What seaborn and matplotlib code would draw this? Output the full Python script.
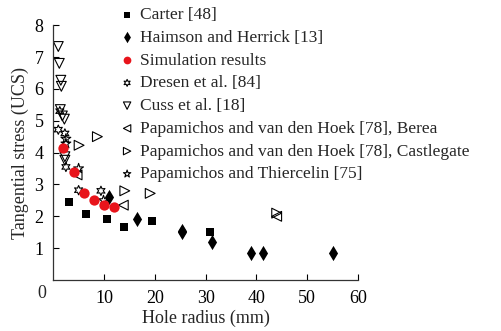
import matplotlib
matplotlib.use("Agg")
import matplotlib.pyplot as plt
import seaborn as sns

# Données
carter_x = [3.2, 6.4, 10.6, 14.0, 19.4, 30.9]
carter_y = [2.46, 2.07, 1.92, 1.67, 1.86, 1.51]

haimson_x = [11.0, 16.5, 25.3, 25.3, 31.2, 39.0, 41.4, 55.0]
haimson_y = [2.61, 1.91, 1.50, 1.55, 1.18, 0.86, 0.86, 0.84]

simulation_x = [2, 4, 6, 8, 10, 12]
simulation_y = [4.13, 3.38, 2.72, 2.51, 2.35, 2.28]

dresen_x = [1.0, 1.3, 2.3, 2.5, 5.0, 9.4]
dresen_y = [4.72, 5.30, 4.60, 3.55, 2.82, 2.80]

cuss_x = [1.0, 1.2, 1.5, 1.6, 1.4, 1.8, 2.2, 2.3, 2.3]
cuss_y = [7.33, 6.80, 6.27, 6.08, 5.35, 5.15, 5.05, 3.87, 3.76]

berea_x = [4.7, 13.8, 44.0]
berea_y = [3.30, 2.35, 2.00]

castlegate_x = [5.1, 8.7, 14.1, 19.1, 44.0]
castlegate_y = [4.23, 4.50, 2.80, 2.72, 2.10]

thiercelin_x = [2.5, 2.5, 5.0, 9.9]
thiercelin_y = [4.43, 4.28, 3.50, 2.50]

labels = ['Carter [48]', 'Haimson and Herrick [13]', 'Simulation results',
          'Dresen et al. [84]', 'Cuss et al. [18]',
          'Papamichos and van den Hoek [78], Berea',
          'Papamichos and van den Hoek [78], Castlegate',
          'Papamichos and Thiercelin [75]']

sns.set_style('ticks')
plt.rcParams['font.family'] = ['Liberation Serif', 'DejaVu Serif']
plt.rcParams['font.size'] = 13

fig = plt.figure(figsize=(5.02, 3.31), dpi=100)
ax = fig.add_axes([0.106, 0.154, 0.607, 0.770])

# Séries pleines
sns.scatterplot(x=carter_x, y=carter_y, marker='s', s=26, color='black',
                edgecolor='black', linewidth=0, label=labels[0], ax=ax)
sns.scatterplot(x=haimson_x, y=haimson_y, marker='d', s=60, color='black',
                edgecolor='black', linewidth=0, label=labels[1], ax=ax)
sns.scatterplot(x=simulation_x, y=simulation_y, marker='o', s=55, color='#e8141b',
                edgecolor='#e8141b', linewidth=0, label=labels[2], ax=ax, zorder=3)

# Séries creuses
open_kw = dict(facecolor='none', edgecolor='black', linewidth=0.8)
sns.scatterplot(x=dresen_x, y=dresen_y, marker=(6, 1, 0), s=45, label=labels[3], ax=ax, **open_kw)
sns.scatterplot(x=cuss_x, y=cuss_y, marker='v', s=50, label=labels[4], ax=ax, **open_kw)
sns.scatterplot(x=berea_x, y=berea_y, marker='<', s=50, label=labels[5], ax=ax, **open_kw)
sns.scatterplot(x=castlegate_x, y=castlegate_y, marker='>', s=50, label=labels[6], ax=ax, **open_kw)
sns.scatterplot(x=thiercelin_x, y=thiercelin_y, marker='*', s=55, label=labels[7], ax=ax, **open_kw)

# Axes
ax.set_xlim(0, 60)
ax.set_ylim(0, 8)
ax.set_xticks([10, 20, 30, 40, 50, 60])
ax.set_yticks([1, 2, 3, 4, 5, 6, 7, 8])
ax.tick_params(direction='in', length=4, width=0.8, pad=7, labelsize=13, colors='black')
for side in ['top', 'right']:
    ax.spines[side].set_visible(False)
for side in ['left', 'bottom']:
    ax.spines[side].set_linewidth(0.9)
    ax.spines[side].set_color('#333333')
ax.text(-0.036, -0.051, '0', transform=ax.transAxes, ha='center', va='center', fontsize=13)
ax.set_xlabel('Hole radius (mm)', fontsize=13, labelpad=2)
ax.set_ylabel('Tangential stress (UCS)', fontsize=13, labelpad=4)

# Légende en haut, par-dessus le graphique
ax.legend(loc='upper left', bbox_to_anchor=(0.229, 0.984), bbox_transform=fig.transFigure,
          frameon=False, fontsize=12.5, markerscale=0.75, handlelength=1.2, handletextpad=0.12,
          labelspacing=0.38, borderpad=0.1, borderaxespad=0)

fig.savefig('out.png', dpi=100)
